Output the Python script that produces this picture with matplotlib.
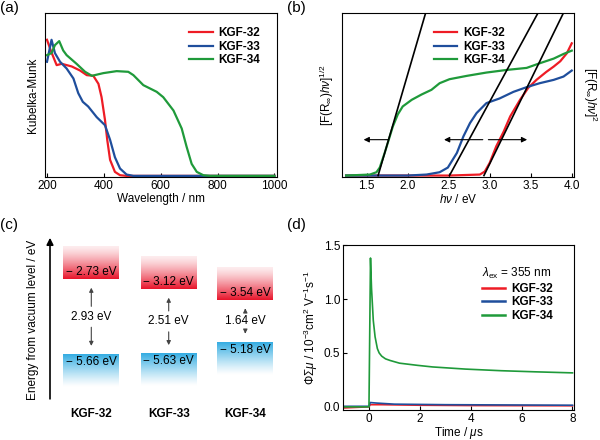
"""Four-panel figure: absorption, Tauc plots, energy levels and TRMC transients."""

import matplotlib.pyplot as plt
import numpy as np
from matplotlib.colors import to_rgb

plt.rcParams["font.family"] = ["Liberation Sans", "DejaVu Sans"]
plt.rcParams["mathtext.fontset"] = "custom"
plt.rcParams["mathtext.rm"] = "Liberation Sans"
plt.rcParams["mathtext.it"] = "Liberation Sans:italic"
plt.rcParams["mathtext.bf"] = "Liberation Sans:bold"
plt.rcParams["xtick.direction"] = "in"
plt.rcParams["ytick.direction"] = "in"
plt.rcParams["axes.linewidth"] = 0.8

NAMES = ["KGF-32", "KGF-33", "KGF-34"]
COLORS = ["#ee1c25", "#1f4e9c", "#1f9a3a"]

# (a) Kubelka-Munk spectra (normalised)
wl_32 = [200, 215, 234, 252, 287, 316, 340, 363, 381, 392, 404, 412, 422, 439, 457, 480, 600, 1000]
km_32 = [1.02, 0.93, 0.83, 0.84, 0.82, 0.79, 0.755, 0.75, 0.69, 0.59, 0.42, 0.27, 0.12, 0.03, 0.005, 0.0, 0.0, 0.0]
wl_33 = [200, 216, 228, 246, 269, 293, 310, 326, 345, 375, 404, 422, 439, 457, 480, 504, 600, 1000]
km_33 = [0.855, 1.02, 0.92, 0.855, 0.805, 0.73, 0.62, 0.555, 0.52, 0.44, 0.38, 0.27, 0.14, 0.055, 0.01, 0.0, 0.0, 0.0]
wl_34 = [200, 216, 228, 243, 257, 269, 304, 334, 358, 398, 445, 486, 504, 539, 586, 609,
         645, 674, 691, 709, 727, 750, 774, 1000]
km_34 = [0.905, 0.92, 0.98, 1.01, 0.94, 0.905, 0.84, 0.78, 0.75, 0.77, 0.785, 0.78, 0.755, 0.68, 0.63, 0.59,
         0.49, 0.355, 0.22, 0.09, 0.03, 0.005, 0.0, 0.0]

# (b) Tauc plots
ev_32 = [1.25, 2.5, 2.88, 2.94, 3.0, 3.08, 3.17, 3.25, 3.37, 3.47, 3.57, 3.69, 3.78, 3.86, 3.94, 4.0]
tauc_32 = [0.0, 0.0, 0.0075, 0.03, 0.095, 0.22, 0.33, 0.445, 0.57, 0.66, 0.72, 0.78, 0.82, 0.86, 0.92, 0.995]
ev_33 = [1.25, 2.0, 2.23, 2.39, 2.49, 2.60, 2.68, 2.76, 2.84, 2.96, 3.12, 3.29, 3.45, 3.61, 3.78, 3.90, 4.0]
tauc_33 = [0.0, 0.0, 0.0075, 0.025, 0.06, 0.17, 0.295, 0.395, 0.47, 0.545, 0.58, 0.63, 0.665, 0.695, 0.72,
           0.745, 0.79]
ev_34 = [1.25, 1.54, 1.62, 1.66, 1.72, 1.77, 1.82, 1.88, 1.94, 2.05, 2.17, 2.29, 2.39, 2.51, 2.72, 2.96,
         3.21, 3.45, 3.61, 3.78, 3.90, 4.0]
tauc_34 = [0.0, 0.0075, 0.025, 0.06, 0.17, 0.27, 0.37, 0.46, 0.52, 0.57, 0.61, 0.645, 0.695, 0.725, 0.75,
           0.775, 0.795, 0.81, 0.845, 0.88, 0.915, 0.94]
band_gap = [2.93, 2.51, 1.64]
tangent_top = [3.90, 3.59, 2.22]

# (c) energy levels
lumo = [-2.73, -3.12, -3.54]
homo = [-5.66, -5.63, -5.18]

# (d) TRMC transients
t_32 = [-1.0, -0.5, 0.0, 0.05, 0.5, 2.0, 4.0, 8.0]
phi_32 = [-0.01, -0.005, 0.0, 0.02, 0.02, 0.015, 0.012, 0.01]
t_33 = [-1.0, 0.0, 0.05, 0.3, 1.0, 3.0, 8.0]
phi_33 = [0.005, 0.005, 0.04, 0.035, 0.025, 0.02, 0.015]
t_34 = [-1.0, 0.0, 0.06, 0.1, 0.17, 0.24, 0.33, 0.4, 0.5, 0.65, 0.83, 1.2, 1.9, 2.5, 3.8, 5.2, 6.5, 8.0]
phi_34 = [0.0, 0.0, 1.38, 1.1, 0.8, 0.65, 0.54, 0.5, 0.47, 0.445, 0.43, 0.405, 0.385, 0.37, 0.35, 0.335,
          0.325, 0.315]

fig = plt.figure(figsize=(6.0, 4.4), dpi=100)
TICK = 8.5
LAB = 8.5
LEG = dict(frameon=False, prop={"weight": "bold", "size": 8.5}, handlelength=2.0,
           handletextpad=0.5, labelspacing=0.12, borderaxespad=0, loc="upper left")

# ---- (a)
ax = fig.add_axes([0.075, 0.598, 0.387, 0.373])
for x, y, c, n in zip([wl_32, wl_33, wl_34], [km_32, km_33, km_34], COLORS, NAMES):
    ax.plot(x, y, color=c, lw=1.6, label=n)
ax.set_xlim(193, 1010)
ax.set_ylim(-0.0075, 1.2225)
ax.set_xticks([200, 400, 600, 800, 1000])
ax.set_yticks([])
ax.tick_params(labelsize=TICK, length=3, pad=2)
ax.set_xlabel("Wavelength / nm", fontsize=LAB, labelpad=1)
ax.set_ylabel("Kubelka-Munk", fontsize=LAB, labelpad=4)
ax.legend(bbox_to_anchor=(0.6, 0.94), **LEG)

# ---- (b)
ax = fig.add_axes([0.57, 0.598, 0.387, 0.373])
for x, y, c, n in zip([ev_32, ev_33, ev_34], [tauc_32, tauc_33, tauc_34], COLORS, NAMES):
    ax.plot(x, y, color=c, lw=1.6, label=n)
for eg, top in zip(band_gap, tangent_top):
    ax.plot([eg, top], [0.0, 1.225], color="black", lw=1.2)
arrow = dict(arrowstyle="-|>", color="black", lw=0.8, mutation_scale=8)
ax.annotate("", xy=(1.43, 0.27), xytext=(1.80, 0.27), arrowprops=arrow)
ax.annotate("", xy=(2.41, 0.27), xytext=(2.95, 0.27), arrowprops=arrow)
ax.annotate("", xy=(3.49, 0.27), xytext=(2.95, 0.27), arrowprops=arrow)
ax.set_xlim(1.2, 4.03)
ax.set_ylim(-0.01, 1.225)
ax.set_xticks([1.5, 2.0, 2.5, 3.0, 3.5, 4.0])
ax.set_yticks([])
ax.tick_params(labelsize=TICK, length=3, pad=2)
ax.set_xlabel(r"$h\nu$ / eV", fontsize=LAB, labelpad=1)
ax.set_ylabel(r"[F(R$_\infty$)$h\nu$]$^{1/2}$", fontsize=LAB, labelpad=4)
ax.text(1.03, 0.5, r"[F(R$_\infty$)$h\nu$]$^2$", transform=ax.transAxes, rotation=-90,
        ha="left", va="center", fontsize=LAB)
ax.legend(bbox_to_anchor=(0.375, 0.94), **LEG)

# ---- (c)
ax = fig.add_axes([0.0, 0.0, 0.5, 0.5])
ax.axis("off")
ax.annotate("", xy=(50, -1.0), xytext=(50, -7.51),
            arrowprops=dict(arrowstyle="-|>", color="black", lw=1.2, mutation_scale=10))
ax.text(33, -4.32, "Energy from vacuum level / eV", rotation=90, ha="center", va="center",
        fontsize=LAB)
centers = [91.3, 168.7, 245.3]
half_w = 28
box_h = 1.27
ramp = np.linspace(0, 1, 64)[:, None]
red = np.array(to_rgb("#e8142a"))
blue = np.array(to_rgb("#29a8e0"))
gap_arrow = dict(arrowstyle="-|>", color="#444444", lw=0.8, mutation_scale=6)
for cx, lu, ho, name in zip(centers, lumo, homo, NAMES):
    img_r = np.ones((64, 1, 4))
    img_r[..., :3] = red
    img_r[..., 3] = 0.08 + 0.92 * ramp ** 1.3
    ax.imshow(img_r, extent=[cx - half_w, cx + half_w, lu, lu + box_h], origin="upper",
              aspect="auto", interpolation="bilinear")
    img_b = np.ones((64, 1, 4))
    img_b[..., :3] = blue
    img_b[..., 3] = 0.95 * (1 - ramp) ** 1.2
    ax.imshow(img_b, extent=[cx - half_w, cx + half_w, ho - box_h, ho], origin="upper",
              aspect="auto", interpolation="bilinear")
    ax.text(cx, lu + 0.27, f"\u2212 {abs(lu):.2f} eV", ha="center", va="center", fontsize=8.5)
    ax.text(cx, ho - 0.3, f"\u2212 {abs(ho):.2f} eV", ha="center", va="center", fontsize=8.5)
    mid = (lu + ho) / 2
    ax.text(cx, mid, f"{lu - ho:.2f} eV", ha="center", va="center", fontsize=8.5)
    ax.annotate("", xy=(cx, lu - 0.22), xytext=(cx, mid + 0.3), arrowprops=gap_arrow)
    ax.annotate("", xy=(cx, ho + 0.22), xytext=(cx, mid - 0.3), arrowprops=gap_arrow)
    ax.text(cx, -8.0, name, ha="center", va="center", fontsize=8.5, fontweight="bold")
ax.set_xlim(0, 300)
ax.set_ylim(-9.007, -0.414)

# ---- (d)
ax = fig.add_axes([0.5717, 0.068, 0.385, 0.375])
for x, y, c, n in zip([t_32, t_33, t_34], [phi_32, phi_33, phi_34], COLORS, NAMES):
    ax.plot(x, y, color=c, lw=1.2, label=n)
ax.set_xlim(-1.02, 8.06)
ax.set_ylim(-0.03, 1.5)
ax.set_xticks([0, 2, 4, 6, 8])
ax.set_yticks([0.0, 0.5, 1.0, 1.5])
ax.tick_params(labelsize=TICK, length=3, pad=2)
ax.set_xlabel(r"Time / $\mu$s", fontsize=LAB, labelpad=0)
ax.set_ylabel(r"$\mathit{\Phi}\Sigma\mu$ / 10$^{-3}$cm$^2$ V$^{-1}$s$^{-1}$", fontsize=LAB, labelpad=3)
leg = ax.legend(bbox_to_anchor=(0.58, 0.9), title=r"$\lambda_\mathrm{ex}$ = 355 nm",
                title_fontsize=8.5, **LEG)
leg._legend_box.align = "left"
for line in leg.get_lines():
    line.set_linewidth(1.8)

for label, x, y in [("(a)", 0.0, 0.998), ("(b)", 0.478, 0.998), ("(c)", 0.0, 0.505), ("(d)", 0.478, 0.505)]:
    fig.text(x, y, label, fontsize=11, ha="left", va="top")

fig.savefig("out.png", dpi=100)
